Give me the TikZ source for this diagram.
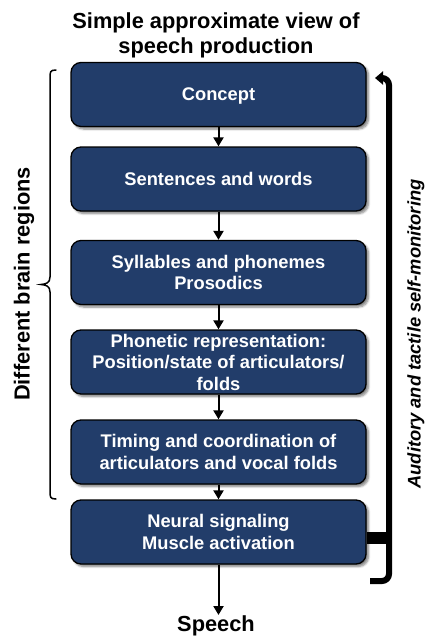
\documentclass[tikz,border=0pt]{standalone}
\usepackage{fontspec}
\setmainfont{Liberation Sans}
\usetikzlibrary{arrows.meta,shadows.blur}
\definecolor{stagefill}{RGB}{34,61,106}

\begin{document}
\begin{tikzpicture}[x=1pt,y=-1pt,
  stagebox/.style={draw=black, line width=1.3pt, fill=stagefill,
    rounded corners=10pt, minimum width=295pt, minimum height=64pt,
    text=white, align=center, inner sep=0pt, text depth=0pt,
    font=\fontsize{18.3}{21.6}\selectfont\bfseries,
    blur shadow={shadow xshift=2.5pt, shadow yshift=-2.5pt,
      shadow blur steps=6, shadow opacity=50}},
  flow/.style={-{Triangle[length=9pt,width=10pt]}, line width=2pt},
  heading/.style={font=\fontsize{21.8}{25}\selectfont\bfseries, align=center, inner sep=0pt},
  feedback/.style={line width=6pt, rounded corners=7pt,
    -{Triangle[length=8pt,width=13pt]}},
  bracefig/.style={line width=1.5pt, line cap=round}
]
\useasboundingbox (0,0) rectangle (426,637);

% title
\node[heading] (title) at (216,35) {Simple approximate view of\\speech production};

% processing stages
\node[stagebox] (concept)  at (218.5,94.5) {Concept};
\node[stagebox] (words)    at (218.5,179)  {Sentences and words};
\node[stagebox] (syll)     at (218.5,272.5){Syllables and phonemes\\Prosodics};
\node[stagebox] (phon)     at (218.5,362)  {Phonetic representation:\\Position/state of articulators/\\folds};
\node[stagebox] (timing)   at (218.5,452)  {Timing and coordination of\\articulators and vocal folds};
\node[stagebox] (neural)   at (218.5,532)  {Neural signaling\\Muscle activation};

% output
\node[heading, anchor=north] (speech) at (216,615) {Speech};

% arrows between stages
\draw[flow] (concept) -- (words);
\draw[flow] (words) -- (syll);
\draw[flow] (syll) -- (phon);
\draw[flow] (phon) -- (timing);
\draw[flow] (timing) -- (neural);
\draw[flow] (neural) -- (speech.north -| neural.south);

% self-monitoring loop
\coordinate (loopend) at (370,581);
\coordinate (looptip) at (375,78);
\draw[line width=12pt] ([yshift=-6pt]neural.east) -- ++(23,0);
\draw[feedback] (loopend) -| (389,78) -- (looptip);
\node[rotate=90, font=\fontsize{18.3}{22}\selectfont\bfseries\itshape, inner sep=0pt]
  (monitor) at (416,334) {Auditory and tactile self-monitoring};

% brace grouping the brain stages
\draw[bracefig] (56,70) .. controls (50,70) and (50,72) .. (50,78)
  -- (50,277) .. controls (50,283) and (46,284) .. (41,284.5)
  .. controls (46,285) and (50,286) .. (50,292)
  -- (50,491) .. controls (50,497) and (50,499) .. (56,499);
\node[rotate=90, heading] (regions) at (24,284) {Different brain regions};
\end{tikzpicture}
\end{document}
